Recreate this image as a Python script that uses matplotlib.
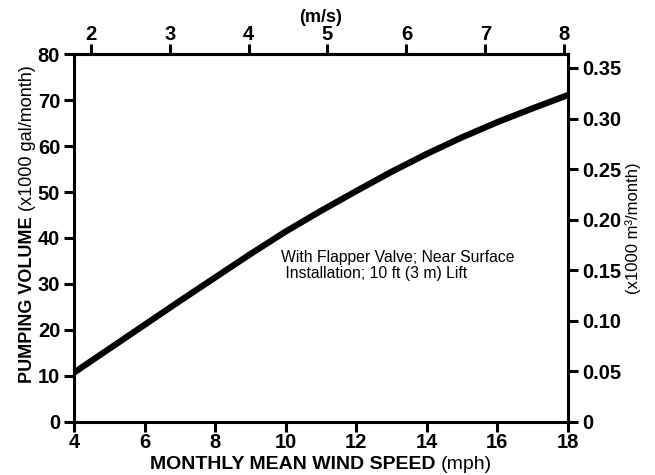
import matplotlib
matplotlib.use("Agg")
import matplotlib.pyplot as plt

# wind speed (mph) vs pumping volume (x1000 gal/month)
wind_mph = [4, 5, 6, 7, 8, 9, 10, 11, 12, 13, 14, 15, 16, 17, 18]
volume_kgal = [10.7, 15.9, 21.1, 26.3, 31.4, 36.5, 41.4, 45.9, 50.2, 54.4, 58.3, 61.9, 65.2, 68.2, 71.1]

x_ticks = [4, 6, 8, 10, 12, 14, 16, 18]
y_ticks = [0, 10, 20, 30, 40, 50, 60, 70, 80]
ms_ticks = [2, 3, 4, 5, 6, 7, 8]
m3_ticks = [0, 0.05, 0.10, 0.15, 0.20, 0.25, 0.30, 0.35]
m3_labels = ["0", "0.05", "0.10", "0.15", "0.20", "0.25", "0.30", "0.35"]

MPH_PER_MS = 2.237
M3_PER_KGAL = 0.004546  # imperial gallons -> x1000 m3

plt.rcParams['font.family'] = ['Liberation Sans', 'DejaVu Sans']

fig = plt.figure(figsize=(6.55, 4.75), dpi=100)
ax = fig.add_axes([0.113, 0.112, 0.754, 0.774])

ax.plot(wind_mph, volume_kgal, color="black", linewidth=4.5,
        solid_capstyle="butt", solid_joinstyle="round")

ax.set_xlim(4, 18)
ax.set_ylim(0, 80)
ax.set_xticks(x_ticks)
ax.set_yticks(y_ticks)

for s in ax.spines.values():
    s.set_linewidth(2.2)

tick_kw = dict(direction="out", length=7, width=2.2, labelsize=14.5)
ax.tick_params(axis="x", pad=1, **tick_kw)
ax.tick_params(axis="y", pad=3, **tick_kw)
for lab in ax.get_xticklabels() + ax.get_yticklabels():
    lab.set_fontweight("bold")

# axis titles: caps bold, units regular
xl = ax.text(0.154, -0.128, "MONTHLY MEAN WIND SPEED", transform=ax.transAxes,
             fontsize=14, fontweight="bold", ha="left", va="baseline")
ax.annotate("(mph)", xy=(1, 0), xycoords=xl, xytext=(4, 0), textcoords="offset points",
            fontsize=14, ha="left", va="bottom")

yl = ax.text(-0.112, 0.105, "PUMPING VOLUME", transform=ax.transAxes, rotation=90,
             fontsize=13, fontweight="bold", ha="left", va="bottom")
ax.annotate("(x1000 gal/month)", xy=(0, 1), xycoords=yl, xytext=(0, 4), textcoords="offset points",
            rotation=90, fontsize=13, ha="left", va="bottom")

# top axis in m/s
top = ax.secondary_xaxis("top", functions=(lambda v: v / MPH_PER_MS, lambda v: v * MPH_PER_MS))
top.set_xticks(ms_ticks)
top.tick_params(pad=0, **tick_kw)
for lab in top.get_xticklabels():
    lab.set_fontweight("bold")
top.spines["top"].set_linewidth(2.2)
ax.text(0.5, 1.10, "(m/s)", transform=ax.transAxes, fontsize=13, fontweight="bold",
        ha="center", va="center")

# right axis in x1000 m3/month
right = ax.secondary_yaxis("right", functions=(lambda v: v * M3_PER_KGAL, lambda v: v / M3_PER_KGAL))
right.set_yticks(m3_ticks)
right.set_yticklabels(m3_labels)
right.tick_params(pad=3, **tick_kw)
for lab in right.get_yticklabels():
    lab.set_fontweight("bold")
right.spines["right"].set_linewidth(2.2)
ax.text(1.115, 0.527, "(x1000 m³/month)", transform=ax.transAxes, rotation=90,
        fontsize=12, ha="left", va="center")

ax.text(0.42, 0.467, "With Flapper Valve; Near Surface\n Installation; 10 ft (3 m) Lift",
        transform=ax.transAxes, fontsize=11.3, ha="left", va="top", linespacing=1.1)

fig.savefig("out.png", dpi=100)
